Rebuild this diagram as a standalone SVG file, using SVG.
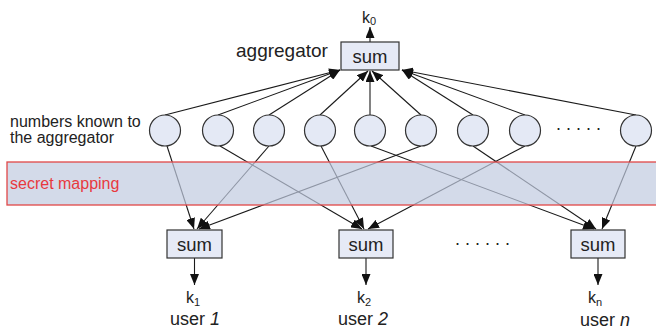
<svg xmlns="http://www.w3.org/2000/svg" width="656" height="330" viewBox="0 0 656 330">
  <style>
    text { font-family: "Liberation Sans", Arial, sans-serif; fill: #222; }
    .box { fill: #e6eaf6; stroke: #333; stroke-width: 1.2; }
    .num { fill: #e4e9f5; stroke: #333; stroke-width: 1.2; }
    .edge { stroke: #1a1a1a; stroke-width: 1.1; fill: none; marker-end: url(#arrow); }
    .lbl { font-size: 16px; }
    .sum { font-size: 18.5px; text-anchor: middle; }
    .k { font-size: 16px; }
    .sub { font-size: 11px; }
    .user { font-size: 18px; }
    .dots { font-size: 18px; }
  </style>
  <defs>
    <marker id="arrow" markerUnits="userSpaceOnUse" markerWidth="11" markerHeight="9" refX="11" refY="4.5" orient="auto">
      <path d="M0,0 L11,4.5 L0,9 z" fill="#111"/>
    </marker>
  </defs>

  <rect width="656" height="330" fill="#fff"/>

  <!-- connectors -->
  <g id="connectors">
    <!-- numbers up to the aggregator sum -->
    <line class="edge" x1="165" y1="115" x2="340" y2="70"/>
    <line class="edge" x1="218" y1="115" x2="340" y2="70"/>
    <line class="edge" x1="269" y1="115" x2="340" y2="70"/>
    <line class="edge" x1="320" y1="115" x2="368" y2="71"/>
    <line class="edge" x1="370" y1="115" x2="370" y2="71"/>
    <line class="edge" x1="421" y1="115" x2="372" y2="71"/>
    <line class="edge" x1="473" y1="115" x2="402" y2="70"/>
    <line class="edge" x1="525" y1="115" x2="402" y2="70"/>
    <line class="edge" x1="636" y1="115" x2="402" y2="70"/>
    <!-- aggregator output -->
    <line class="edge" x1="370" y1="42" x2="370" y2="27"/>
    <!-- numbers down to the user sums -->
    <line class="edge" x1="167" y1="146" x2="194" y2="229"/>
    <line class="edge" x1="220" y1="146" x2="362" y2="229"/>
    <line class="edge" x1="269" y1="146" x2="197" y2="229"/>
    <line class="edge" x1="321" y1="146" x2="364" y2="229"/>
    <line class="edge" x1="371" y1="146" x2="594" y2="229"/>
    <line class="edge" x1="421" y1="146" x2="199" y2="229"/>
    <line class="edge" x1="473" y1="146" x2="596" y2="229"/>
    <line class="edge" x1="525" y1="146" x2="368" y2="229"/>
    <line class="edge" x1="636" y1="146" x2="602" y2="229"/>
    <!-- user outputs -->
    <line class="edge" x1="194.5" y1="258" x2="194.5" y2="285"/>
    <line class="edge" x1="366" y1="258" x2="366" y2="285"/>
    <line class="edge" x1="598" y1="258" x2="598" y2="285"/>
  </g>

  <!-- translucent band hiding the mapping -->
  <g id="secret-mapping">
    <rect x="7" y="162" width="662" height="43" fill="#c0cae0" fill-opacity="0.7" stroke="#e04848" stroke-width="1.3"/>
    <text x="10" y="189" style="font-size:16px; fill:#e8393e">secret mapping</text>
  </g>

  <!-- aggregator -->
  <g id="aggregator">
    <rect class="box" x="341" y="42" width="58" height="28"/>
    <text class="sum" x="370" y="63">sum</text>
    <text x="236" y="57" style="font-size:19px">aggregator</text>
    <text class="k" x="362" y="23">k<tspan class="sub" dy="2">0</tspan></text>
  </g>

  <g id="numbers-label">
    <text class="lbl" x="10" y="127">numbers known to</text>
    <text class="lbl" x="10" y="143">the aggregator</text>
  </g>

  <!-- numbers known to the aggregator -->
  <g id="n1"><circle class="num" cx="165" cy="130.5" r="15.5"/></g>
  <g id="n2"><circle class="num" cx="218" cy="130.5" r="15.5"/></g>
  <g id="n3"><circle class="num" cx="269" cy="130.5" r="15.5"/></g>
  <g id="n4"><circle class="num" cx="320" cy="130.5" r="15.5"/></g>
  <g id="n5"><circle class="num" cx="370" cy="130.5" r="15.5"/></g>
  <g id="n6"><circle class="num" cx="421" cy="130.5" r="15.5"/></g>
  <g id="n7"><circle class="num" cx="473" cy="130.5" r="15.5"/></g>
  <g id="n8"><circle class="num" cx="525" cy="130.5" r="15.5"/></g>
  <g id="n-more"><text class="dots" x="556" y="130">. . . . .</text></g>
  <g id="n9"><circle class="num" cx="636" cy="130.5" r="15.5"/></g>

  <!-- users -->
  <g id="user1">
    <rect class="box" x="167" y="230" width="55" height="28"/>
    <text class="sum" x="194.5" y="251">sum</text>
    <text class="k" x="186" y="303">k<tspan class="sub" dy="3">1</tspan></text>
    <text class="user" x="170" y="325">user <tspan font-style="italic">1</tspan></text>
  </g>
  <g id="user2">
    <rect class="box" x="339" y="230" width="54" height="28"/>
    <text class="sum" x="366" y="251">sum</text>
    <text class="k" x="357" y="303">k<tspan class="sub" dy="3">2</tspan></text>
    <text class="user" x="338" y="325">user <tspan font-style="italic">2</tspan></text>
  </g>
  <g id="users-more"><text class="dots" x="455" y="245">. . . . . .</text></g>
  <g id="usern">
    <rect class="box" x="571" y="230" width="54" height="28"/>
    <text class="sum" x="598" y="251">sum</text>
    <text class="k" x="588" y="303">k<tspan class="sub" dy="3">n</tspan></text>
    <text class="user" x="580" y="325.5">user <tspan font-style="italic">n</tspan></text>
  </g>
</svg>
